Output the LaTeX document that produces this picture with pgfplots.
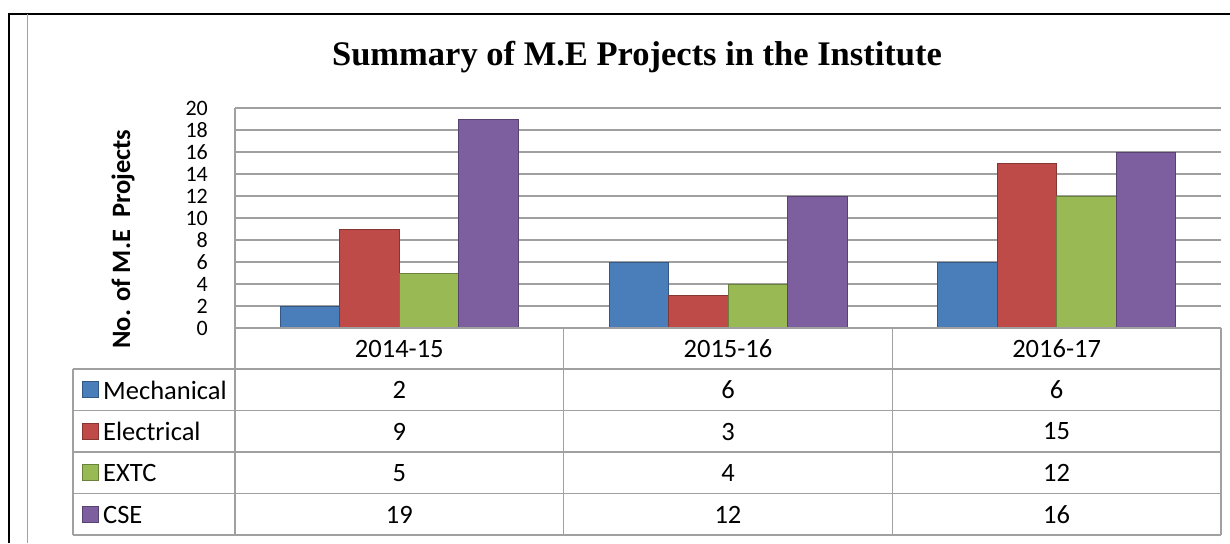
\documentclass[border=0pt]{standalone}
\usepackage{pgfplots}
\usepackage{pgfplotstable}
\pgfplotsset{compat=1.18}
\usepackage{fontspec}
\setmainfont{Carlito}
\newfontfamily\titlefont{Liberation Serif}
\definecolor{cMech}{HTML}{4A7EBB}
\definecolor{cElec}{HTML}{BE4B48}
\definecolor{cExtc}{HTML}{98B954}
\definecolor{cCse}{HTML}{7D5FA0}
\definecolor{gridc}{HTML}{A0A0A0}
\pgfplotstableread{
x Mech Elec EXTC CSE
0 2 9 5 19
1 6 3 4 12
2 6 15 12 16
}\data
\begin{document}
\begin{tikzpicture}
\begin{axis}[
  at={(235pt,-328pt)}, anchor=south west,
  scale only axis, width=986pt, height=220pt,
  xmin=-0.5, xmax=2.5, ymin=0, ymax=20,
  xtick=\empty,
  ytick={0,2,...,20},
  ymajorgrids, grid style={gridc, line width=1.3pt},
  axis x line=none,
  axis y line*=left,
  y axis line style={gridc, line width=1.3pt},
  major tick length=0pt,
  /pgf/number format/assume math mode=true,
  yticklabel style={font=\fontsize{22}{22}\selectfont, anchor=east, inner sep=0pt, text height=15pt, text depth=0pt, xshift=-27pt},
  ybar=0pt, bar width=59.5pt,
  clip=false,
]
\addplot[fill=cMech, draw=cMech!70!black, line width=0.8pt] table[x=x,y=Mech]{\data};
\addplot[fill=cElec, draw=cElec!70!black, line width=0.8pt] table[x=x,y=Elec]{\data};
\addplot[fill=cExtc, draw=cExtc!70!black, line width=0.8pt] table[x=x,y=EXTC]{\data};
\addplot[fill=cCse, draw=cCse!70!black, line width=0.8pt] table[x=x,y=CSE]{\data};
\end{axis}
\begin{scope}[x=1pt,y=-1pt]
\useasboundingbox (0,0) rectangle (1230,543);
% outer frame
\draw[black, line width=2pt] (9,543) -- (9,14) -- (1230,14);
\draw[gridc, line width=1pt] (27,14) -- (27,543);
% title
\node[font=\titlefont\bfseries\fontsize{34.5}{34.5}\selectfont] at (637,57) {Summary of M.E Projects in the Institute};
% y label
\node[rotate=90, font=\bfseries\fontsize{26.5}{26.5}\selectfont] at (123,239) {No. of M.E\ \ Projects};
% table lines
\begin{scope}[gridc, line width=1.5pt]
\draw (235,328) -- (1221,328);
\foreach \yy in {369,410.5,452,493.5,535} \draw (73,\yy) -- (1221,\yy);
\draw (235,108) -- (235,535);
\foreach \xx in {563.7,892.3,1221} \draw (\xx,328) -- (\xx,535);
\draw (73,369) -- (73,535);
\end{scope}
% header
\foreach \lab [count=\i from 0] in {2014-15,2015-16,2016-17}
  \node[font=\fontsize{26.5}{26.5}\selectfont] at (399.3+328.67*\i,349) {\lab};
% legend keys and names
\foreach \nm/\col [count=\j from 0] in {Mechanical/cMech,Electrical/cElec,EXTC/cExtc,CSE/cCse}{
  \fill[\col, draw=\col!70!black, line width=0.6pt] (82,381.5+41.5*\j) rectangle (98,397.5+41.5*\j);
  \node[anchor=west, inner sep=0pt, font=\fontsize{26.5}{26.5}\selectfont] at (103,390+41.5*\j) {\nm};
}
% values
\foreach \r in {0,1,2}{
  \foreach \c [count=\j from 0] in {Mech,Elec,EXTC,CSE}{
    \pgfplotstablegetelem{\r}{\c}\of\data
    \node[font=\fontsize{26.5}{26.5}\selectfont] at (399.3+328.67*\r,390+41.5*\j) {\pgfplotsretval};
  }
}
\end{scope}
\end{tikzpicture}
\end{document}
